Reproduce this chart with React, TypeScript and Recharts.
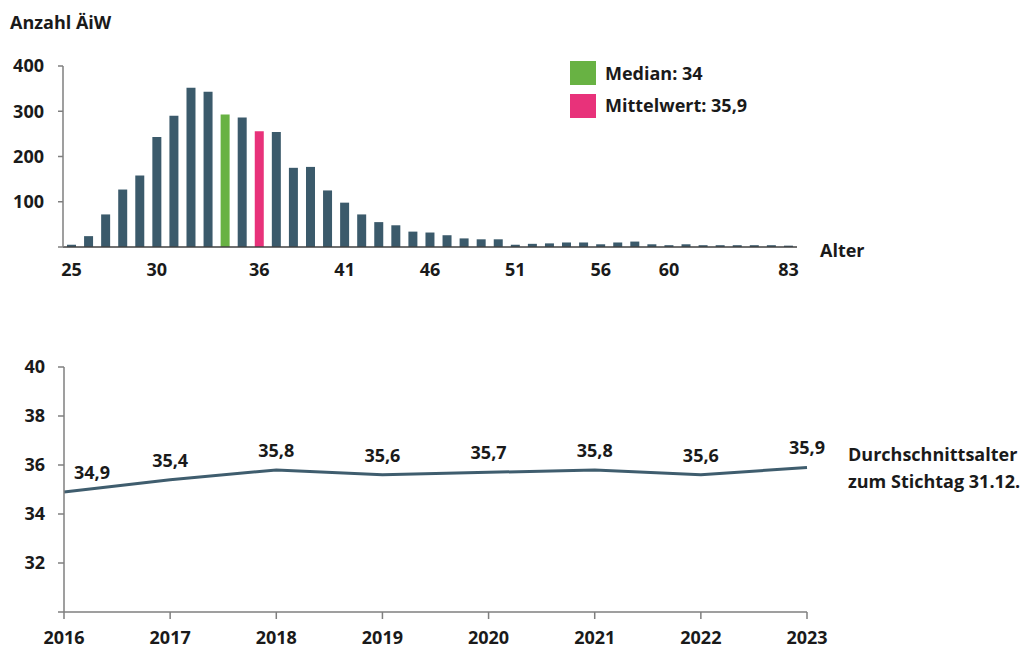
import { BarChart, Bar, Cell, LineChart, Line, XAxis, YAxis, LabelList } from 'recharts'

// Altersverteilung (Histogramm)
const ages = [
  '25', '26', '27', '28', '29', '30', '31', '32', '33', '34', '35', '36', '37', '38', '39', '40',
  '41', '42', '43', '44', '45', '46', '47', '48', '49', '50', '51', '52', '53', '54', '55', '56',
  '57', '58', '59', '60', '61', '62', '63', '64', '65', '66', '83',
]
const counts = [
  5, 24, 72, 127, 158, 243, 290, 352, 343, 293, 286, 256, 254, 175, 177, 125,
  98, 72, 55, 48, 34, 32, 26, 19, 17, 17, 5, 7, 8, 10, 10, 6,
  10, 12, 6, 4, 6, 4, 4, 4, 4, 4, 3,
]
const ageTicks = ['25', '30', '36', '41', '46', '51', '56', '60', '83']
const countTicks = [0, 100, 200, 300, 400]
const medianAge = '34'
const meanAge = '36'

// Durchschnittsalter je Jahr
const years = ['2016', '2017', '2018', '2019', '2020', '2021', '2022', '2023']
const avgAge = [34.9, 35.4, 35.8, 35.6, 35.7, 35.8, 35.6, 35.9]
const avgTicks = [30, 32, 34, 36, 38, 40]

const histData = ages.map((a, i) => ({ age: a, count: counts[i] }))
const lineData = years.map((y, i) => ({ year: y, avg: avgAge[i] }))

const FONT = '"Open Sans", sans-serif'
const TXT = '#1a1a1a'
const BAR = '#3b5a6b'
const GREEN = '#68b243'
const PINK = '#e8327a'
const AXIS = '#7f7f7f'

const tickStyle = { fill: TXT, fontSize: 18, fontWeight: 700, fontFamily: FONT }

function Text({ x, y, children }: { x: number; y: number; children: any }) {
  return (
    <div
      style={{
        position: 'absolute', left: x, top: y - 13, lineHeight: '26px', whiteSpace: 'nowrap',
        fontFamily: FONT, fontSize: 18, fontWeight: 700, color: TXT,
      }}
    >
      {children}
    </div>
  )
}

const renderAvgLabel = (props: any) => {
  const { x, y, value, index } = props
  const dx = index === 0 ? 28 : 0
  return (
    <text
      x={x + dx}
      y={y - 20}
      textAnchor="middle"
      dominantBaseline="central"
      fill={TXT}
      fontSize={18}
      fontWeight={700}
      fontFamily={FONT}
    >
      {String(value).replace('.', ',')}
    </text>
  )
}

export default function App() {
  return (
    <div style={{ position: 'absolute', left: 0, top: 0, width: 1023, height: 650, background: '#fff' }}>
      <div style={{ position: 'absolute', left: 0, top: 0 }}>
        <BarChart width={1023} height={290} data={histData} margin={{ top: 66, right: 226, left: 0, bottom: 0 }} barSize={9}>
          <XAxis
            dataKey="age"
            ticks={ageTicks}
            interval={0}
            tickLine={false}
            tickSize={0}
            tickMargin={16}
            height={43}
            axisLine={{ stroke: '#404040', strokeWidth: 1.5 }}
            tick={tickStyle}
          />
          <YAxis
            domain={[0, 400]}
            ticks={countTicks}
            width={63}
            tickSize={5}
            tickMargin={14}
            axisLine={{ stroke: AXIS, strokeWidth: 1.5 }}
            tickLine={{ stroke: AXIS, strokeWidth: 1.5 }}
            tick={tickStyle}
            tickFormatter={(v: number) => (v === 0 ? '' : String(v))}
          />
          <Bar dataKey="count" isAnimationActive={false}>
            {histData.map((d) => (
              <Cell key={d.age} fill={d.age === medianAge ? GREEN : d.age === meanAge ? PINK : BAR} />
            ))}
          </Bar>
        </BarChart>
      </div>

      <div style={{ position: 'absolute', left: 0, top: 0 }}>
        <LineChart width={1023} height={650} data={lineData} margin={{ top: 367, right: 216, left: 0, bottom: 0 }}>
          <XAxis
            dataKey="year"
            interval={0}
            tickSize={7}
            tickMargin={12}
            height={38}
            axisLine={{ stroke: AXIS, strokeWidth: 1.5 }}
            tickLine={{ stroke: AXIS, strokeWidth: 1.5 }}
            tick={tickStyle}
          />
          <YAxis
            domain={[30, 40]}
            ticks={avgTicks}
            width={64}
            tickSize={6}
            tickMargin={13}
            axisLine={{ stroke: AXIS, strokeWidth: 1.5 }}
            tickLine={{ stroke: AXIS, strokeWidth: 1.5 }}
            tick={tickStyle}
            tickFormatter={(v: number) => (v === 30 ? '' : String(v))}
          />
          <Line
            type="linear"
            dataKey="avg"
            stroke="#3f5d6e"
            strokeWidth={3}
            dot={false}
            isAnimationActive={false}
          >
            <LabelList dataKey="avg" content={renderAvgLabel} />
          </Line>
        </LineChart>
      </div>

      <Text x={10} y={22}>Anzahl ÄiW</Text>
      <Text x={820} y={250}>Alter</Text>

      <div style={{ position: 'absolute', left: 570, top: 61, width: 26, height: 24, background: GREEN }} />
      <Text x={605} y={73}>Median: 34</Text>
      <div style={{ position: 'absolute', left: 570, top: 94, width: 26, height: 24, background: PINK }} />
      <Text x={605} y={105}>Mittelwert: 35,9</Text>

      <Text x={848} y={454}>Durchschnittsalter</Text>
      <Text x={848} y={481}>zum Stichtag 31.12.</Text>
    </div>
  )
}
